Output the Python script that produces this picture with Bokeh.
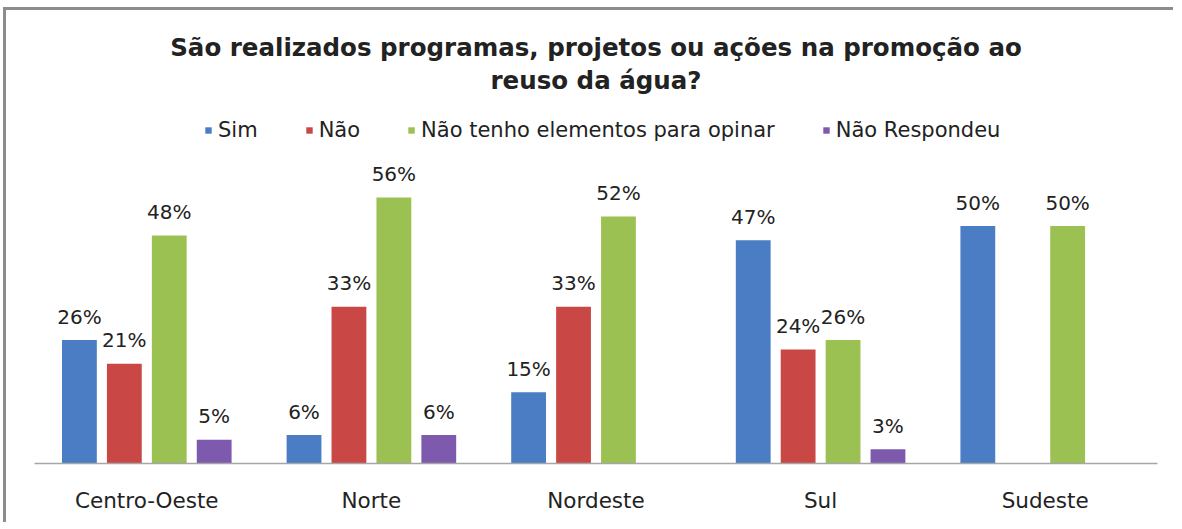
from bokeh.plotting import figure
from bokeh.models import (FactorRange, ColumnDataSource, LabelSet, Label, Legend,
                          LegendItem, Range1d)
from bokeh.transform import dodge
from bokeh.core.properties import value
from bokeh.embed import file_html
from bokeh.resources import INLINE

# ---- data ----
regions = ["Centro-Oeste", "Norte", "Nordeste", "Sul", "Sudeste"]
series = ["Sim", "Não", "Não tenho elementos para opinar", "Não Respondeu"]
sim = [26, 6, 15, 47, 50]
nao = [21, 33, 33, 24, None]
nao_tenho = [48, 56, 52, 26, 50]
nao_respondeu = [5, 6, None, 3, None]
title_lines = ["São realizados programas, projetos ou ações na promoção ao",
               "reuso da água?"]

# ---- style ----
colors = ["#4A7DC4", "#C94846", "#9BC152", "#7D5AAE"]
offsets = [-0.3, -0.1, 0.1, 0.3]
FONT = "DejaVu Sans"
TXT = "#222222"

W, H = 1170, 515
PX_PER_PCT = 4.75
BL, BR, BB = 28, 19, 62
frame_h = H - BB
y_end = frame_h / PX_PER_PCT
ORIGIN_Y = 10        # page offset of canvas (margin + border)
BASE_PAGE_Y = ORIGIN_Y + frame_h


def y_at(page_y):
    return (BASE_PAGE_Y - page_y) / PX_PER_PCT


p = figure(width=W, height=H,
           x_range=FactorRange(factors=regions, range_padding=0),
           y_range=Range1d(0, y_end),
           output_backend="svg", toolbar_location=None,
           y_axis_location=None, title=None,
           min_border_left=BL, min_border_right=BR,
           min_border_top=0, min_border_bottom=BB)
p.styles = {"margin-left": "3px", "margin-top": "7px",
            "border-left": "3px solid #8c8c8c", "border-top": "3px solid #8c8c8c"}
p.outline_line_color = None
p.background_fill_color = "white"
p.border_fill_color = "white"
p.grid.visible = False

ax = p.xaxis[0]
ax.axis_line_color = "#a6a6a6"
ax.axis_line_width = 1.5
ax.major_tick_line_color = None
ax.minor_tick_line_color = None
ax.major_label_text_font = FONT
ax.major_label_text_font_size = "21.5px"
ax.major_label_text_color = TXT
ax.major_label_standoff = 18

all_vals = [sim, nao, nao_tenho, nao_respondeu]
items = []
for i, vals in enumerate(all_vals):
    xs = [r for r, v in zip(regions, vals) if v is not None]
    tops = [v for v in vals if v is not None]
    src = ColumnDataSource(dict(x=xs, top=tops, label=[f"{v}%" for v in tops]))
    xd = dodge("x", offsets[i], range=p.x_range)
    r = p.vbar(x=xd, top="top", width=0.155, source=src,
               fill_color=colors[i], line_color=None)
    p.add_layout(LabelSet(x=xd, y="top", text="label", source=src,
                          text_align="center", text_baseline="alphabetic",
                          y_offset=16.5, text_font=value(FONT),
                          text_font_size=value("20px"),
                          text_color=value(TXT)))
    items.append(LegendItem(label=series[i], renderers=[r]))

legend = Legend(items=items, orientation="horizontal",
                location=(170, frame_h - (130 - ORIGIN_Y) - 12),
                glyph_width=8, glyph_height=8, label_standoff=6, spacing=47,
                padding=0, margin=0, border_line_color=None,
                background_fill_alpha=0, label_text_font=FONT,
                label_text_font_size="21px", label_text_color=TXT)
p.add_layout(legend)

for line, py in zip(title_lines, [47, 80]):
    p.add_layout(Label(x=2.5, y=y_at(py), text=line, text_align="center",
                       text_baseline="alphabetic", text_font=FONT,
                       text_font_size="24.5px", text_font_style="bold",
                       text_color=TXT))

open("out.html", "w").write(file_html(p, INLINE))
